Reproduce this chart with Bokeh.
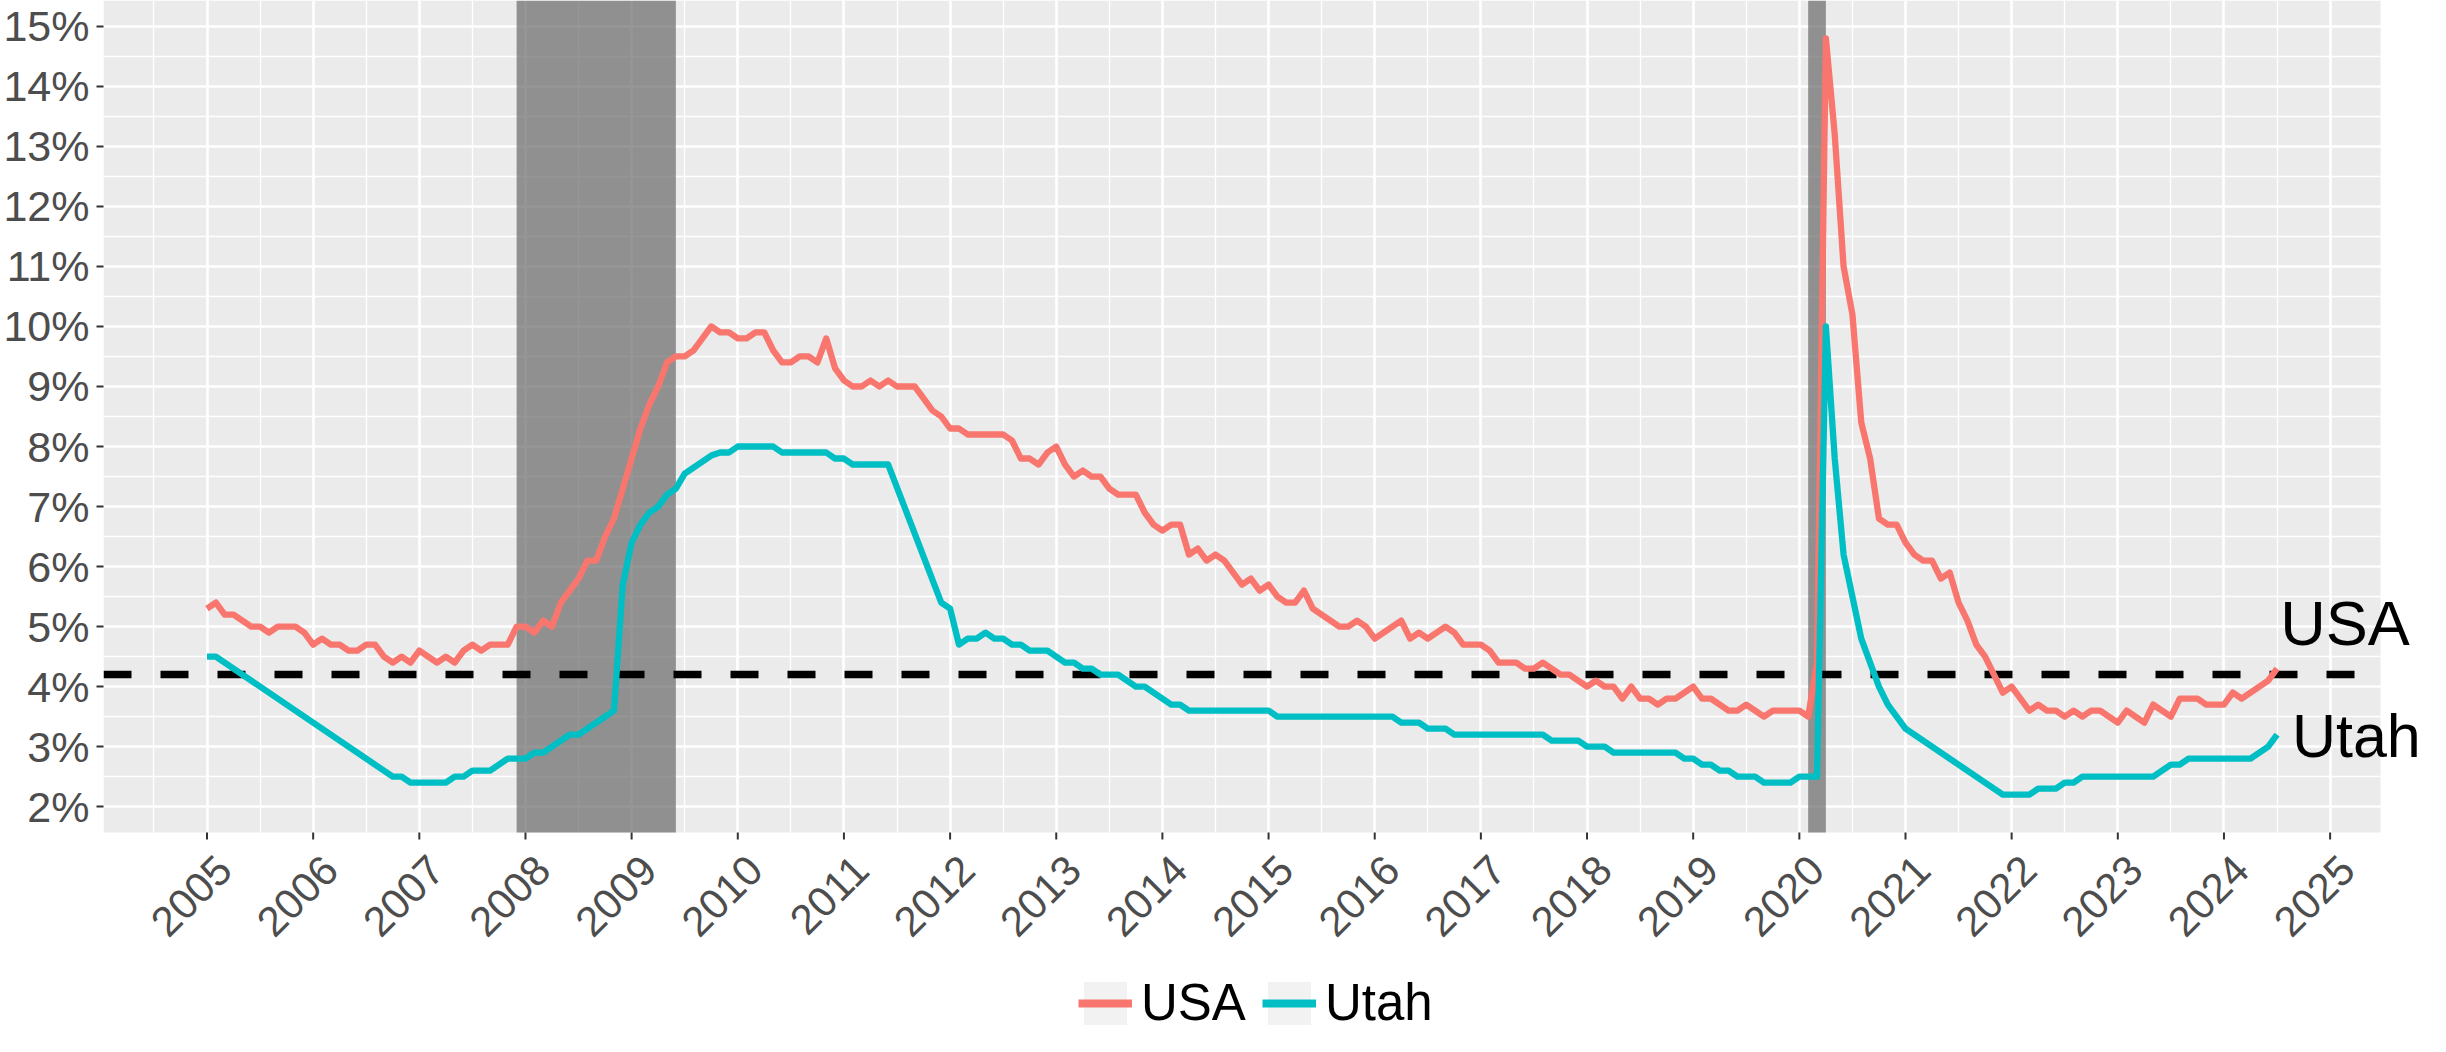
import math
from bokeh.plotting import figure
from bokeh.models import (Range1d, FixedTicker, PrintfTickFormatter, Legend,
                          LegendItem, Label, Grid)
from bokeh.core.properties import value
from bokeh.embed import file_html
from bokeh.resources import INLINE

# ---------------- data ----------------
start_year = 2005  # monthly series start (Jan 2005)

# US unemployment rate, monthly Jan 2005 - Jul 2024 (%)
usa_rate = [
    5.3, 5.4, 5.2, 5.2, 5.1, 5.0, 5.0, 4.9, 5.0, 5.0, 5.0, 4.9,   # 2005
    4.7, 4.8, 4.7, 4.7, 4.6, 4.6, 4.7, 4.7, 4.5, 4.4, 4.5, 4.4,   # 2006
    4.6, 4.5, 4.4, 4.5, 4.4, 4.6, 4.7, 4.6, 4.7, 4.7, 4.7, 5.0,   # 2007
    5.0, 4.9, 5.1, 5.0, 5.4, 5.6, 5.8, 6.1, 6.1, 6.5, 6.8, 7.3,   # 2008
    7.8, 8.3, 8.7, 9.0, 9.4, 9.5, 9.5, 9.6, 9.8, 10.0, 9.9, 9.9,  # 2009
    9.8, 9.8, 9.9, 9.9, 9.6, 9.4, 9.4, 9.5, 9.5, 9.4, 9.8, 9.3,   # 2010
    9.1, 9.0, 9.0, 9.1, 9.0, 9.1, 9.0, 9.0, 9.0, 8.8, 8.6, 8.5,   # 2011
    8.3, 8.3, 8.2, 8.2, 8.2, 8.2, 8.2, 8.1, 7.8, 7.8, 7.7, 7.9,   # 2012
    8.0, 7.7, 7.5, 7.6, 7.5, 7.5, 7.3, 7.2, 7.2, 7.2, 6.9, 6.7,   # 2013
    6.6, 6.7, 6.7, 6.2, 6.3, 6.1, 6.2, 6.1, 5.9, 5.7, 5.8, 5.6,   # 2014
    5.7, 5.5, 5.4, 5.4, 5.6, 5.3, 5.2, 5.1, 5.0, 5.0, 5.1, 5.0,   # 2015
    4.8, 4.9, 5.0, 5.1, 4.8, 4.9, 4.8, 4.9, 5.0, 4.9, 4.7, 4.7,   # 2016
    4.7, 4.6, 4.4, 4.4, 4.4, 4.3, 4.3, 4.4, 4.3, 4.2, 4.2, 4.1,   # 2017
    4.0, 4.1, 4.0, 4.0, 3.8, 4.0, 3.8, 3.8, 3.7, 3.8, 3.8, 3.9,   # 2018
    4.0, 3.8, 3.8, 3.7, 3.6, 3.6, 3.7, 3.6, 3.5, 3.6, 3.6, 3.6,   # 2019
    3.6, 3.5, 4.4, 14.8, 13.2, 11.0, 10.2, 8.4, 7.8, 6.8, 6.7, 6.7,  # 2020
    6.4, 6.2, 6.1, 6.1, 5.8, 5.9, 5.4, 5.1, 4.7, 4.5, 4.2, 3.9,   # 2021
    4.0, 3.8, 3.6, 3.7, 3.6, 3.6, 3.5, 3.6, 3.5, 3.6, 3.6, 3.5,   # 2022
    3.4, 3.6, 3.5, 3.4, 3.7, 3.6, 3.5, 3.8, 3.8, 3.8, 3.7, 3.7,   # 2023
    3.7, 3.9, 3.8, 3.9, 4.0, 4.1, 4.3,                            # 2024
]

# Utah unemployment rate: observations (months since Jan 2005, %)
utah_month = [
    0, 1, 21, 22, 23, 24, 25, 26, 27, 28, 29, 30, 31, 32, 33, 34, 35, 36,
    37, 38, 39, 40, 41, 42, 43, 44, 45, 46, 47, 48, 49, 50, 51, 52, 53, 54,
    55, 56, 57, 58, 59, 60, 61, 62, 63, 64, 65, 66, 67, 68, 69, 70, 71, 72,
    73, 74, 75, 76, 77, 83, 84, 85, 86, 87, 88, 89, 90, 91, 92, 93, 94, 95,
    96, 97, 98, 99, 100, 101, 102, 103, 104, 105, 106, 107, 108, 109, 110,
    111, 112, 113, 114, 115, 116, 117, 118, 119, 120, 121, 122, 123, 124,
    125, 126, 127, 128, 129, 130, 131, 132, 133, 134, 135, 136, 137, 138,
    139, 140, 141, 142, 143, 144, 145, 146, 147, 148, 149, 150, 151, 152,
    153, 154, 155, 156, 157, 158, 159, 160, 161, 162, 163, 164, 165, 166,
    167, 168, 169, 170, 171, 172, 173, 174, 175, 176, 177, 178, 179, 180,
    181, 182, 183, 184, 185, 186, 187, 188, 189, 190, 191, 192, 193, 203,
    204, 205, 206, 207, 208, 209, 210, 211, 212, 213, 214, 215, 216, 217,
    218, 219, 220, 221, 222, 223, 224, 225, 226, 227, 228, 229, 230, 231,
    232, 233, 234,
]
utah_rate = [
    4.5, 4.5, 2.5, 2.5, 2.4, 2.4, 2.4, 2.4, 2.4, 2.5, 2.5, 2.6, 2.6, 2.6, 2.7, 2.8, 2.8, 2.8,
    2.9, 2.9, 3.0, 3.1, 3.2, 3.2, 3.3, 3.4, 3.5, 3.6, 5.7, 6.4, 6.7, 6.9, 7.0, 7.2, 7.3, 7.55,
    7.65, 7.75, 7.85, 7.9, 7.9, 8.0, 8.0, 8.0, 8.0, 8.0, 7.9, 7.9, 7.9, 7.9, 7.9, 7.9, 7.8, 7.8,
    7.7, 7.7, 7.7, 7.7, 7.7, 5.4, 5.3, 4.7, 4.8, 4.8, 4.9, 4.8, 4.8, 4.7, 4.7, 4.6, 4.6, 4.6,
    4.5, 4.4, 4.4, 4.3, 4.3, 4.2, 4.2, 4.2, 4.1, 4.0, 4.0, 3.9, 3.8, 3.7, 3.7,
    3.6, 3.6, 3.6, 3.6, 3.6, 3.6, 3.6, 3.6, 3.6, 3.6, 3.5, 3.5, 3.5, 3.5,
    3.5, 3.5, 3.5, 3.5, 3.5, 3.5, 3.5, 3.5, 3.5, 3.5, 3.4, 3.4, 3.4, 3.3,
    3.3, 3.3, 3.2, 3.2, 3.2, 3.2, 3.2, 3.2, 3.2, 3.2, 3.2, 3.2, 3.2, 3.1,
    3.1, 3.1, 3.1, 3.0, 3.0, 3.0, 2.9, 2.9, 2.9, 2.9, 2.9, 2.9, 2.9, 2.9,
    2.8, 2.8, 2.7, 2.7, 2.6, 2.6, 2.5, 2.5, 2.5, 2.4, 2.4, 2.4, 2.4, 2.5,
    2.5, 2.5, 10.0, 7.8, 6.2, 5.5, 4.8, 4.4, 4.0, 3.7, 3.5, 3.3, 3.2, 2.2,
    2.2, 2.2, 2.2, 2.3, 2.3, 2.3, 2.4, 2.4, 2.5, 2.5, 2.5, 2.5, 2.5, 2.5,
    2.5, 2.5, 2.5, 2.6, 2.7, 2.7, 2.8, 2.8, 2.8, 2.8, 2.8, 2.8, 2.8, 2.8,
    2.9, 3.0, 3.2,
]

# recessions (decimal years)
recession_start = [2007 + 11 / 12, 2020 + 1 / 12]
recession_end = [2009 + 5 / 12, 2020 + 3 / 12]

reference_rate = 4.2           # dashed reference line (%)
year_ticks = list(range(2005, 2026))
year_labels = [str(y) for y in year_ticks]
pct_ticks = list(range(2, 16))
series_names = ["USA", "Utah"]
series_colors = ["#F8766D", "#00BFC4"]
end_labels = ["USA", "Utah"]
end_label_x = [2024.53, 2024.64]
end_label_y = [5.06, 3.18]
end_label_size = ["63px", "61px"]

# ---------------- geometry (pixels) ----------------
FIG_W, FIG_H = 2430, 1036
LEFT = 101                 # space for y axis
PANEL_W, PANEL_H = 2279, 832
FRAME_W, FRAME_H = FIG_W - LEFT, FIG_H

# ---------------- derived ranges ----------------
usa_x = [start_year + i / 12 for i in range(len(usa_rate))]
utah_x = [start_year + m / 12 for m in utah_month]

x_lo, x_hi = min(usa_x + utah_x), max(usa_x + utah_x)
y_lo, y_hi = min(usa_rate + utah_rate), max(usa_rate + utah_rate)
xp0, xp1 = x_lo - 0.05 * (x_hi - x_lo), x_hi + 0.05 * (x_hi - x_lo)
yp0, yp1 = y_lo - 0.05 * (y_hi - y_lo), y_hi + 0.05 * (y_hi - y_lo)
ux = (xp1 - xp0) / PANEL_W     # data units per pixel
uy = (yp1 - yp0) / PANEL_H

x_range = Range1d(xp0, xp0 + FRAME_W * ux)
y_range = Range1d(yp1 - FRAME_H * uy, yp1)

FONT = "Liberation Sans"

p = figure(width=FIG_W, height=FIG_H, output_backend="svg",
           toolbar_location=None, x_range=x_range, y_range=y_range,
           x_axis_location=None,
           min_border_left=LEFT, min_border_right=0, min_border_top=0,
           min_border_bottom=0,
           background_fill_color="white", outline_line_color=None)
p.grid.visible = False

# y axis
p.yaxis.ticker = FixedTicker(ticks=pct_ticks)
p.yaxis.formatter = PrintfTickFormatter(format="%d%%")
ax = p.yaxis[0]
ax.axis_line_color = None
ax.major_tick_line_color = "#333333"
ax.major_tick_line_width = 2
ax.major_tick_out = 7
ax.major_tick_in = 0
ax.minor_tick_out = 0
ax.minor_tick_in = 0
ax.major_label_text_color = "#4D4D4D"
ax.major_label_text_font = FONT
ax.major_label_text_font_size = "43px"
ax.major_label_standoff = 7

# panel background (drawn beneath the grid)
bg = p.quad(left=xp0, right=xp1, bottom=yp0, top=yp1,
            fill_color="#EBEBEB", line_color=None)
bg.level = "image"

# grid lines
xg = Grid(dimension=0, ticker=FixedTicker(
    ticks=year_ticks, minor_ticks=[y + 0.5 for y in range(2004, 2025)]))
yg = Grid(dimension=1, ticker=FixedTicker(
    ticks=pct_ticks, minor_ticks=[v + 0.5 for v in range(2, 15)]))
for g in (xg, yg):
    g.grid_line_color = "white"
    g.grid_line_width = 2.6
    g.minor_grid_line_color = "white"
    g.minor_grid_line_width = 1.3
    p.add_layout(g, "center")

# recession shading
p.quad(left=recession_start, right=recession_end, bottom=yp0, top=yp1,
       fill_color="#696969", fill_alpha=0.7, line_color=None)

# reference line
p.segment(x0=[xp0], x1=[xp1], y0=[reference_rate], y1=[reference_rate],
          line_color="black", line_width=7.5, line_dash="28 29")

# series
p.line(usa_x, usa_rate, line_color=series_colors[0], line_width=6.3,
       line_join="round")
p.line(utah_x, utah_rate, line_color=series_colors[1], line_width=6.3,
       line_join="round")

# x axis: ticks and rotated labels
p.segment(x0=year_ticks, x1=year_ticks, y0=yp0, y1=yp0 - 7 * uy,
          line_color="#333333", line_width=2)
p.text(x=year_ticks, y=yp0 - 20 * uy, text=year_labels, angle=math.pi / 4,
       text_align="right", text_baseline="top", x_offset=7,
       text_font=value(FONT), text_font_size="42px", text_color="#4D4D4D")

# end labels
for txt, lx, ly, fs in zip(end_labels, end_label_x, end_label_y, end_label_size):
    p.add_layout(Label(x=lx, y=ly, text=txt, text_font=FONT,
                       text_font_size=fs, text_color="black",
                       text_align="left", text_baseline="alphabetic"))

# legend: zero-size key renderers (grey key box + thick key line)
key_box = p.quad(left=[xp0], right=[xp0], top=[yp0], bottom=[yp0],
                 fill_color="#F2F2F2", line_color=None)
items = []
for name, col in zip(series_names, series_colors):
    kl = p.line(x=[xp0, xp0], y=[yp0, yp0], line_color=col, line_width=8)
    items.append(LegendItem(label=name, renderers=[key_box, kl]))
legend = Legend(items=items, orientation="horizontal", location=(975, 4),
                glyph_width=54, glyph_height=54, label_standoff=9, spacing=16,
                padding=0, margin=0, label_text_font=FONT,
                label_text_font_size="51px", label_text_color="black",
                background_fill_alpha=0, border_line_alpha=0)
p.add_layout(legend, "center")

open("out.html", "w").write(file_html(p, INLINE))
